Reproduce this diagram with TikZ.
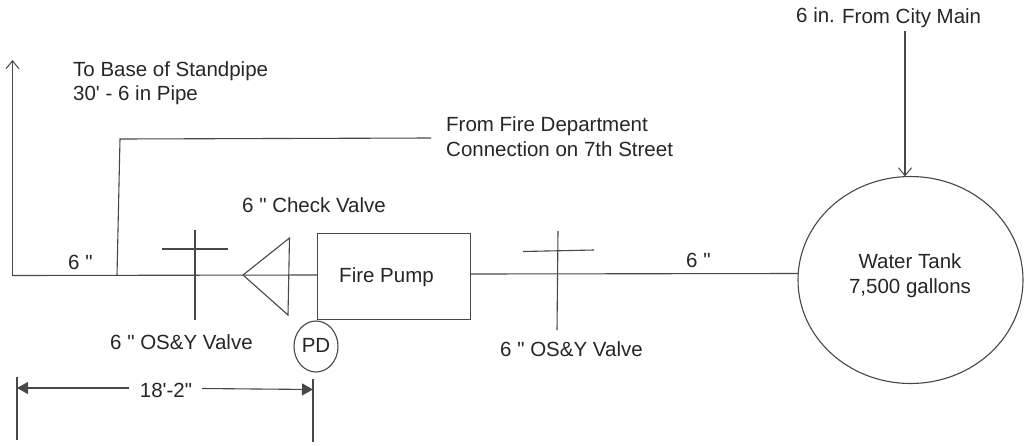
\documentclass[tikz,border=0pt]{standalone}
\usepackage{fontspec}
\setmainfont{Liberation Sans}[Ligatures=TeXOff]
\usetikzlibrary{arrows.meta,shapes.geometric}
\tikzset{
  pipe/.style={draw=black!72,line width=1.1pt},
  lbl/.style={inner sep=0pt,font=\fontsize{20.5}{24.5}\selectfont,text=black!85,align=left},
  openarrow/.style={-{Straight Barb[length=8pt,width=13pt,line width=1pt]}},
  dimarrow/.style={-{Triangle[length=11pt,width=12pt]}}
}
\begin{document}
\begin{tikzpicture}[x=1pt,y=-1pt]
\useasboundingbox (0,0) rectangle (1030,445);
% nodes
\node[pipe,draw,minimum width=153pt,minimum height=86pt,inner sep=0pt,anchor=north west] (pump) at (317,233) {};
\node[lbl,anchor=base] (pumplbl) at (386.5,282) {Fire Pump};
\node[pipe,draw,ellipse,minimum width=44pt,minimum height=51pt,inner sep=0pt] (pd) at (316,346.5) {};
\node[lbl,anchor=base] (pdlbl) at (316,352) {PD};
\node[pipe,draw,ellipse,minimum width=225pt,minimum height=207pt,inner sep=0pt] (tank) at (910.5,280) {};
\node[lbl,align=center,anchor=north] (tanklbl) at (910,253.5) {Water Tank\\7,500 gallons};
% coordinates
\coordinate (up) at (12.5,60);
\coordinate (corner) at (12.5,275.5);
\coordinate (tee) at (117,275.5);
\coordinate (fdbend) at (120,139);
\coordinate (fdend) at (431,138);
\coordinate (city) at (905,31);
\coordinate (cityend) at (905,176.5);
\coordinate (pumpin) at (317,275);
\coordinate (pumpout) at (470,274);
\coordinate (tankin) at (798,273.5);
% pipes
\draw[pipe,openarrow] (corner) -- (up);
\draw[pipe] (corner) -- (pumpin);
\draw[pipe] (tee) -- (fdbend) -- (fdend);
\draw[pipe] (pumpout) -- (tankin);
\draw[pipe,openarrow] (city) -- (cityend);
% OS&Y valves
\coordinate (v1t) at (195,230); \coordinate (v1b) at (195,320);
\coordinate (v1l) at (162,249); \coordinate (v1r) at (228,249);
\draw[pipe] (v1t) -- (v1b); \draw[pipe] (v1l) -- (v1r);
\coordinate (v2t) at (558,231); \coordinate (v2b) at (557,330);
\coordinate (v2l) at (523,251.5); \coordinate (v2r) at (594,250);
\draw[pipe] (v2t) -- (v2b); \draw[pipe] (v2l) -- (v2r);
% check valve
\coordinate (c1) at (243,275); \coordinate (c2) at (289.5,238); \coordinate (c3) at (288,315);
\draw[pipe] (c1) -- (c2) -- (c3) -- cycle;
% dimension
\coordinate (d1t) at (17,377); \coordinate (d1b) at (17,440);
\coordinate (d2t) at (313,379); \coordinate (d2b) at (313,442);
\draw[pipe] (d1t) -- (d1b);
\draw[pipe] (d2t) -- (d2b);
\node[lbl,anchor=base] (dim) at (166,397) {18'-2"};
\coordinate (dl) at (17,388); \coordinate (dr) at (313,389.5);
\coordinate (dla) at (129,388); \coordinate (dra) at (202,388.5);
\draw[pipe,dimarrow] (dla) -- (dl);
\draw[pipe,dimarrow] (dra) -- (dr);
% labels
\node[lbl,anchor=north west] (standpipe) at (73,61) {To Base of Standpipe\\30' - 6 in Pipe};
\node[lbl,anchor=north west] (fdc) at (446,116.5) {From Fire Department\\Connection on 7th Street};
\node[lbl,anchor=base west] (six1) at (68,269) {6 "};
\node[lbl,anchor=base west] (check) at (242,212) {6 " Check Valve};
\node[lbl,anchor=base west] (os1) at (110,349) {6 " OS\&Y Valve};
\node[lbl,anchor=base west] (os2) at (500,356) {6 " OS\&Y Valve};
\node[lbl,anchor=base west] (six2) at (686,267) {6 "};
\node[lbl,anchor=base west] (sixin) at (796,22) {6 in.};
\node[lbl,anchor=base west] (citylbl) at (842,23.5) {From City Main};
\end{tikzpicture}
\end{document}
